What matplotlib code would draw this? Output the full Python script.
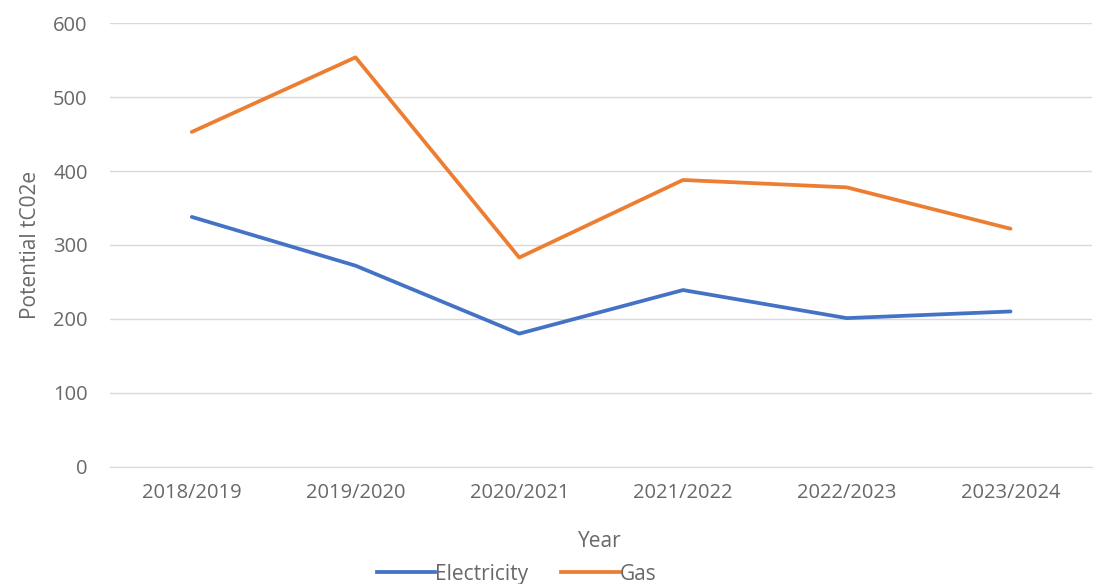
import matplotlib
matplotlib.use("Agg")
import matplotlib.pyplot as plt
from matplotlib.lines import Line2D

years = ["2018/2019", "2019/2020", "2020/2021", "2021/2022", "2022/2023", "2023/2024"]
electricity = [338, 272, 180, 239, 201, 210]
gas = [453, 554, 283, 388, 378, 322]

grey = "#686868"
plt.rcParams['font.family'] = ['Open Sans', 'DejaVu Sans']

fig = plt.figure(figsize=(10.99, 5.84), dpi=100)
ax = fig.add_axes([0.100, 0.201, 0.894, 0.759])

x = range(len(years))
ax.plot(x, electricity, color="#4472C4", lw=2.7, solid_capstyle="round", label="Electricity")
ax.plot(x, gas, color="#ED7D31", lw=2.7, solid_capstyle="round", label="Gas")

ax.set_xlim(-0.5, len(years) - 0.5)
ax.set_ylim(0, 600)
ax.set_yticks(range(0, 601, 100))
ax.set_xticks(list(x))
ax.set_xticklabels(years)
ax.grid(axis="y", color="#d9d9d9", lw=1)
ax.set_axisbelow(True)
for s in ax.spines.values():
    s.set_visible(False)
ax.spines["bottom"].set_visible(True)
ax.spines["bottom"].set_color("#d9d9d9")
ax.tick_params(length=0, colors=grey, labelsize=14.5)
ax.tick_params(axis="y", pad=16)
ax.tick_params(axis="x", pad=12)

ax.set_ylabel("Potential tC02e", color=grey, fontsize=15, labelpad=9)
fig.text(0.546, 0.073, "Year", ha="center", va="center", color=grey, fontsize=15)

handles = [Line2D([], [], color="#4472C4", lw=2.7), Line2D([], [], color="#ED7D31", lw=2.7)]
fig.legend(handles, ["Electricity", "Gas"], loc="center", bbox_to_anchor=(0.47, 0.017),
           ncol=2, frameon=False, fontsize=15, handlelength=2.8, handletextpad=0.0,
           columnspacing=1.6, labelcolor=grey, borderpad=0)

fig.savefig("out.png", dpi=100)
